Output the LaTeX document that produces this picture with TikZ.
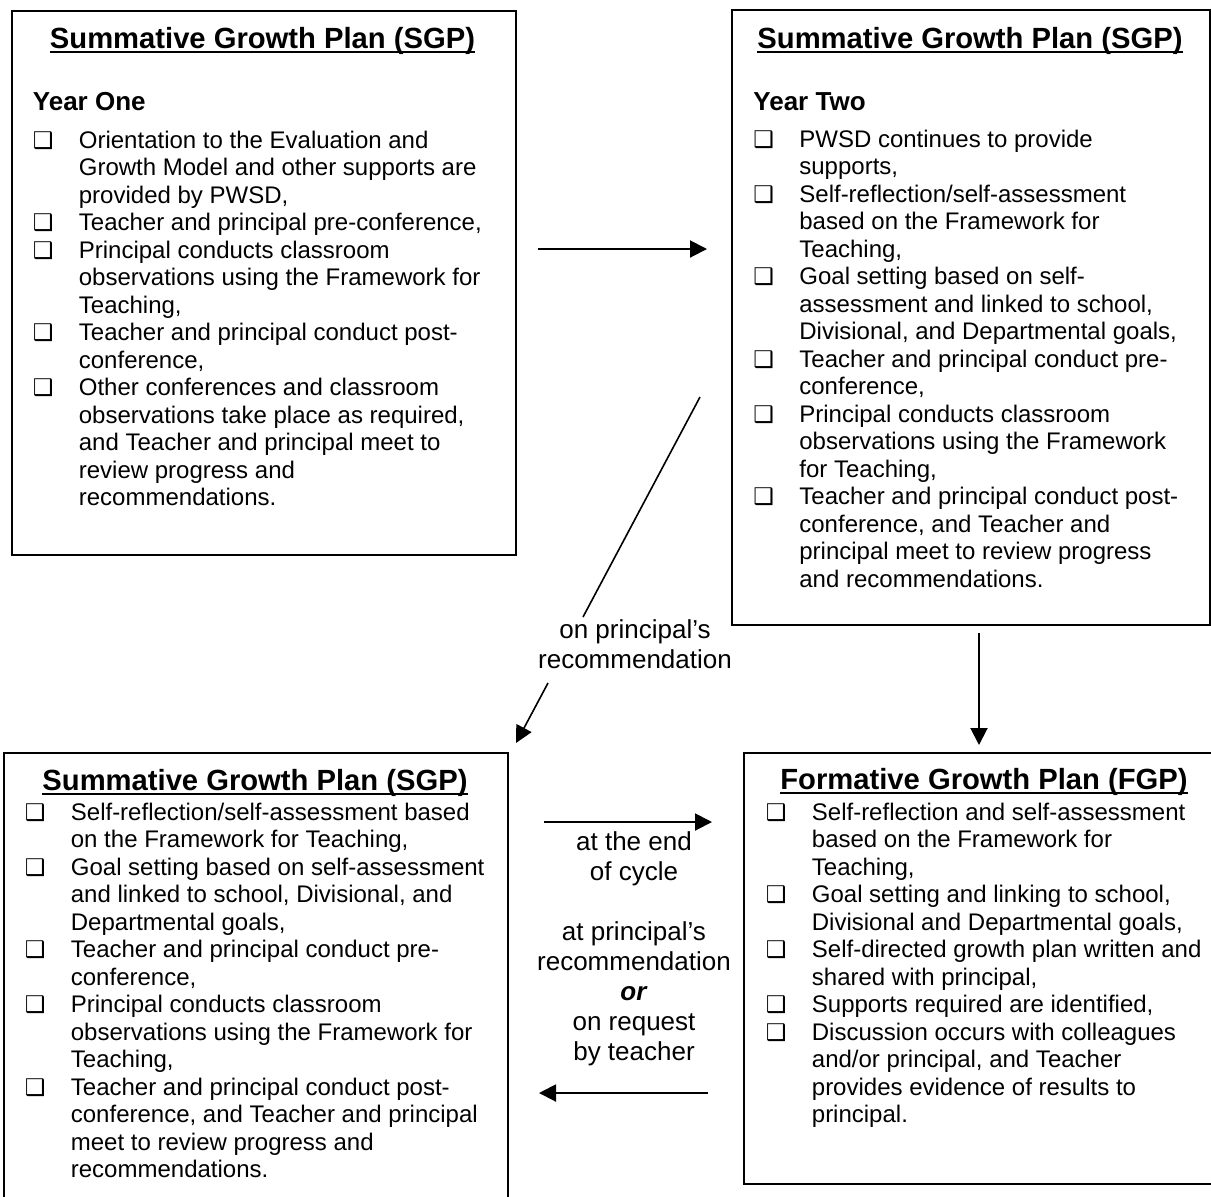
\documentclass[tikz,border=0pt]{standalone}
\usepackage{fontspec}
\setmainfont{Liberation Sans}
\newfontfamily\symfont{DejaVu Sans}
\usetikzlibrary{positioning,arrows.meta}

\newcommand{\sqbox}{{\symfont\fontsize{11.5}{11.5}\selectfont ❑}}
\newcommand{\ulttl}[1]{\setbox0\hbox{#1}\rlap{\rule[-2.4pt]{\wd0}{1pt}}\box0}
\newcommand{\blist}[1]{\begin{tabular}[t]{@{}p{23pt}@{}l@{}}#1\end{tabular}}

\tikzset{
	plan/.style={draw, line width=1.1pt, inner sep=0pt, anchor=north west},
	ttl/.style={font=\fontsize{14.6}{16}\selectfont\bfseries, anchor=base, inner sep=0pt},
	yr/.style={font=\fontsize{13}{15}\selectfont\bfseries, anchor=base west, inner sep=0pt},
	items/.style={font=\fontsize{12}{13.75}\selectfont, anchor=base west, inner sep=0pt},
	lbl/.style={font=\fontsize{13}{15}\selectfont, align=center, inner sep=0pt},
	arr/.style={line width=1pt, -{Triangle[length=8.5pt,width=8.5pt]}},
}

\begin{document}
\begin{tikzpicture}[x=0.5pt,y=-0.5pt]
		\useasboundingbox (0,0) rectangle (1211,1196);
		
		\node[plan, minimum width=252pt, minimum height=272pt] (sgpA) at (10.5,10) {};
		\node[ttl] (sgpAt) at (262.5,48) {\ulttl{Summative Growth Plan (SGP)}};
		\node[yr] (yrA) at (32.5,110) {Year One};
		\node[items] (sgpAl) at (32.5,148) {\blist{
			\sqbox & Orientation to the Evaluation and\\
			& Growth Model and other supports are\\
			& provided by PWSD,\\
			\sqbox & Teacher and principal pre-conference,\\
			\sqbox & Principal conducts classroom\\
			& observations using the Framework for\\
			& Teaching,\\
			\sqbox & Teacher and principal conduct post-\\
			& conference,\\
			\sqbox & Other conferences and classroom\\
			& observations take place as required,\\
			& and Teacher and principal meet to\\
			& review progress and\\
			& recommendations.}};
		
		\node[plan, minimum width=239pt, minimum height=307.5pt] (sgpB) at (731,9) {};
		\node[ttl] (sgpBt) at (970,48) {\ulttl{Summative Growth Plan (SGP)}};
		\node[yr] (yrB) at (753,110) {Year Two};
		\node[items] (sgpBl) at (753,147) {\blist{
			\sqbox & PWSD continues to provide\\
			& supports,\\
			\sqbox & Self-reflection/self-assessment\\
			& based on the Framework for\\
			& Teaching,\\
			\sqbox & Goal setting based on self-\\
			& assessment and linked to school,\\
			& Divisional, and Departmental goals,\\
			\sqbox & Teacher and principal conduct pre-\\
			& conference,\\
			\sqbox & Principal conducts classroom\\
			& observations using the Framework\\
			& for Teaching,\\
			\sqbox & Teacher and principal conduct post-\\
			& conference, and Teacher and\\
			& principal meet to review progress\\
			& and recommendations.}};
		
		\node[plan, minimum width=252.25pt, minimum height=229pt] (sgpC) at (2.5,752) {};
		\node[ttl] (sgpCt) at (255,790) {\ulttl{Summative Growth Plan (SGP)}};
		\node[items] (sgpCl) at (24.5,820) {\blist{
			\sqbox & Self-reflection/self-assessment based\\
			& on the Framework for Teaching,\\
			\sqbox & Goal setting based on self-assessment\\
			& and linked to school, Divisional, and\\
			& Departmental goals,\\
			\sqbox & Teacher and principal conduct pre-\\
			& conference,\\
			\sqbox & Principal conducts classroom\\
			& observations using the Framework for\\
			& Teaching,\\
			\sqbox & Teacher and principal conduct post-\\
			& conference, and Teacher and principal\\
			& meet to review progress and\\
			& recommendations.}};
		
		\node[plan, minimum width=241pt, minimum height=215.5pt] (fgp) at (743,752) {};
		\node[ttl] (fgpt) at (984,789) {\ulttl{Formative Growth Plan (FGP)}};
		\node[items] (fgpl) at (765.5,820) {\blist{
			\sqbox & Self-reflection and self-assessment\\
			& based on the Framework for\\
			& Teaching,\\
			\sqbox & Goal setting and linking to school,\\
			& Divisional and Departmental goals,\\
			\sqbox & Self-directed growth plan written and\\
			& shared with principal,\\
			\sqbox & Supports required are identified,\\
			\sqbox & Discussion occurs with colleagues\\
			& and/or principal, and Teacher\\
			& provides evidence of results to\\
			& principal.}};
		
		\node[lbl] (recm) at (635,644) {on principal’s\\recommendation};
		\node[lbl] (cyc) at (634,949) {at the end\\of cycle\\[15pt]at principal’s\\recommendation\\\textbf{\itshape or}\\on request\\by teacher};
		
		\coordinate (yrS) at (538,249);
		\coordinate (yrE) at (707,249);
		\coordinate (dgA) at (700,397);
		\coordinate (dgB) at (583,617);
		\coordinate (dgC) at (548,683);
		\coordinate (dgD) at (516,743);
		\coordinate (dnS) at (979,633);
		\coordinate (dnE) at (979,745);
		\coordinate (fwS) at (544,822);
		\coordinate (fwE) at (712,822);
		\coordinate (bkS) at (708,1093);
		\coordinate (bkE) at (539,1093);
		
		\draw[arr] (yrS) -- (yrE);
		\draw[line width=0.8pt] (dgA) -- (dgB);
		\draw[arr, line width=0.8pt] (dgC) -- (dgD);
		\draw[arr] (dnS) -- (dnE);
		\draw[arr] (fwS) -- (fwE);
		\draw[arr] (bkS) -- (bkE);
	\end{tikzpicture}
\end{document}
